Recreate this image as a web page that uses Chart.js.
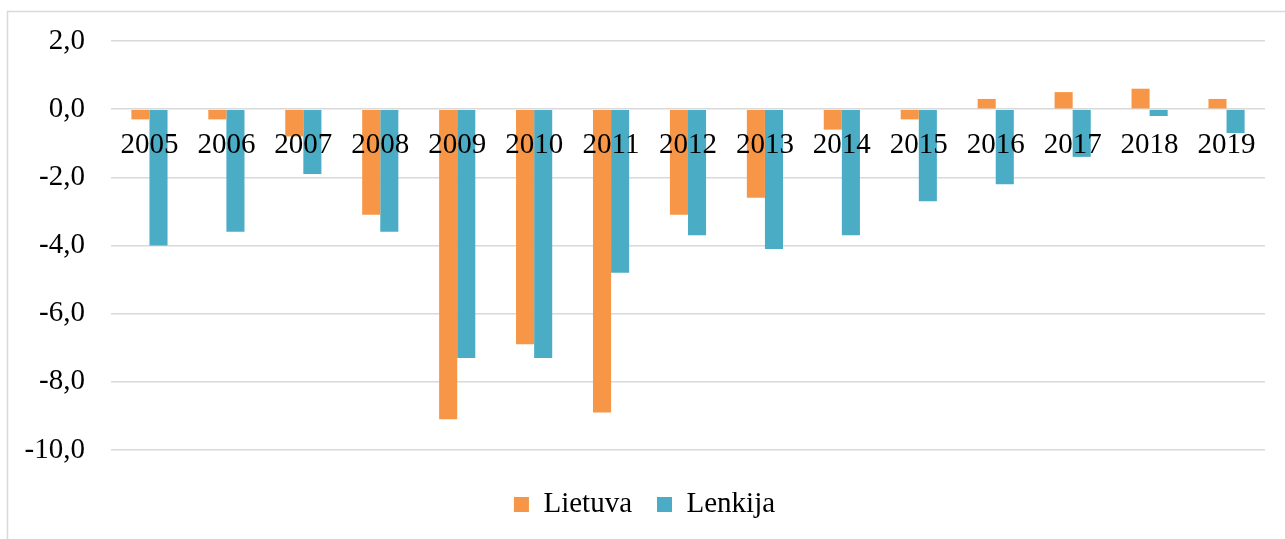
<!DOCTYPE html>
<html>
<head>
<meta charset="utf-8">
<script src="https://cdn.jsdelivr.net/npm/chart.js@4/dist/chart.umd.min.js"></script>
<style>
  html, body { margin: 0; padding: 0; background: #fff; }
  #wrap { position: absolute; left: 0; top: 0; width: 1285px; height: 539px; }
</style>
</head>
<body>
<div id="wrap"><canvas id="c" width="1285" height="539"></canvas></div>
<script>
const categories = ['2005','2006','2007','2008','2009','2010','2011','2012','2013','2014','2015','2016','2017','2018','2019'];
const lietuva = [-0.3, -0.3, -0.8, -3.1, -9.1, -6.9, -8.9, -3.1, -2.6, -0.6, -0.3, 0.3, 0.5, 0.6, 0.3];
const lenkija = [-4.0, -3.6, -1.9, -3.6, -7.3, -7.3, -4.8, -3.7, -4.1, -3.7, -2.7, -2.2, -1.4, -0.2, -0.7];
const seriesNames = ['Lietuva', 'Lenkija'];
const yMin = -10, yMax = 2, yStep = 2;

Chart.defaults.font.family = "'Liberation Serif', 'Times New Roman', serif";
Chart.defaults.font.size = 29;
Chart.defaults.color = '#000';

const borderPlugin = {
  id: 'outerBorder',
  beforeDraw(chart) {
    const ctx = chart.ctx;
    ctx.save();
    ctx.fillStyle = '#fff';
    ctx.fillRect(0, 0, chart.width, chart.height);
    ctx.strokeStyle = '#d9d9d9';
    ctx.lineWidth = 1.5;
    ctx.strokeRect(7.5, 11.5, 1400, 700);
    ctx.restore();
  }
};

new Chart(document.getElementById('c'), {
  type: 'bar',
  data: {
    labels: categories,
    datasets: [
      { label: seriesNames[0], data: lietuva, backgroundColor: '#F79646', borderWidth: 0 },
      { label: seriesNames[1], data: lenkija, backgroundColor: '#4BACC6', borderWidth: 0 }
    ]
  },
  options: {
    responsive: false,
    animation: false,
    devicePixelRatio: 1,
    layout: { padding: { left: 24, right: 20, top: 41, bottom: 10 } },
    datasets: { bar: { categoryPercentage: 0.47, barPercentage: 1.0 } },
    plugins: {
      tooltip: { enabled: false },
      legend: {
        position: 'bottom',
        title: { display: true, text: '', font: { size: 12, lineHeight: 1.25 }, padding: 0 },
        labels: {
          boxWidth: 15, boxHeight: 15, padding: 25,
          font: { size: 29 }, color: '#000'
        }
      }
    },
    scales: {
      x: {
        position: { y: 0 },
        grid: { display: false, drawTicks: false },
        border: { display: false },
        ticks: { z: 1, padding: 19, font: { size: 29 }, color: '#000', maxRotation: 0, autoSkip: false }
      },
      y: {
        min: yMin, max: yMax,
        afterFit(scale) { scale.width = 87; scale.paddingTop = 0; scale.paddingBottom = 0; },
        grid: { color: '#d9d9d9', lineWidth: 1.5, drawTicks: false },
        border: { display: false },
        ticks: {
          stepSize: yStep, padding: 26, font: { size: 29 }, color: '#000',
          callback: v => v.toFixed(1).replace('.', ',')
        }
      }
    }
  },
  plugins: [borderPlugin]
});
</script>
</body>
</html>
